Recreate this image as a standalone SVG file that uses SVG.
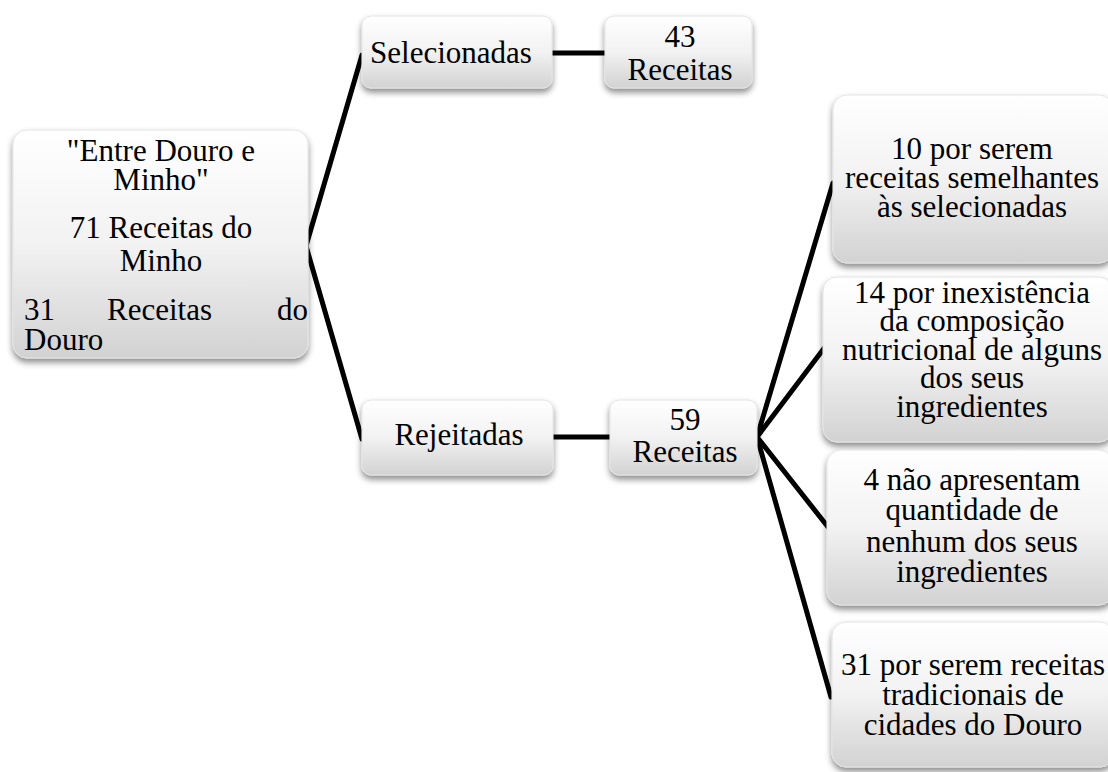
<svg xmlns="http://www.w3.org/2000/svg" width="1108" height="772" viewBox="0 0 1108 772" font-family="'Liberation Serif', 'Times New Roman', Times, serif">
<defs>
<linearGradient id="g" x1="0" y1="0" x2="0" y2="1">
<stop offset="0" stop-color="#ffffff"/>
<stop offset="0.5" stop-color="#f2f2f2"/>
<stop offset="1" stop-color="#d2d2d2"/>
</linearGradient>
<filter id="sh" x="-10%" y="-10%" width="120%" height="130%">
<feDropShadow dx="0" dy="4" stdDeviation="3" flood-color="#000" flood-opacity="0.45"/>
</filter>
</defs>
<style>
.box{fill:url(#g);stroke:#e4e4e4;stroke-width:1;filter:url(#sh)}
.t{font-family:'Liberation Serif','Times New Roman',Times,serif;font-size:31px;fill:#000;text-anchor:middle}
.l{text-anchor:start}
.c{stroke:#000;stroke-width:5;fill:none;stroke-linecap:round}
</style>
<rect width="1108" height="772" fill="#fff"/>
<g id="connectors">
<line class="c" x1="306" y1="246" x2="362" y2="55"/>
<line class="c" x1="306" y1="246" x2="362" y2="439"/>
<line class="c" x1="552" y1="53" x2="605" y2="53"/>
<line class="c" x1="553" y1="437" x2="610" y2="437"/>
<line class="c" x1="757" y1="437" x2="833" y2="183"/>
<line class="c" x1="757" y1="437" x2="825" y2="347"/>
<line class="c" x1="757" y1="437" x2="828" y2="527"/>
<line class="c" x1="757" y1="437" x2="831" y2="697"/>
</g>
<g id="root">
<rect class="box" x="13" y="130" width="295" height="228" rx="14"/>
<text class="t"><tspan x="161" y="161">"Entre Douro e</tspan><tspan x="161" y="190">Minho"</tspan></text>
<text class="t"><tspan x="161" y="238">71 Receitas do</tspan><tspan x="161" y="271">Minho</tspan></text>
<text class="t l"><tspan x="24" y="320">31</tspan><tspan x="107" y="320">Receitas</tspan><tspan x="277" y="320">do</tspan><tspan x="24" y="350">Douro</tspan></text>
</g>
<g id="selecionadas">
<rect class="box" x="362" y="16" width="190" height="72" rx="9"/>
<text class="t" x="451" y="63">Selecionadas</text>
</g>
<g id="sel43">
<rect class="box" x="605" y="16" width="147" height="72" rx="9"/>
<text class="t"><tspan x="680" y="47">43</tspan><tspan x="680" y="80">Receitas</tspan></text>
</g>
<g id="rejeitadas">
<rect class="box" x="362" y="400" width="191" height="75" rx="9"/>
<text class="t" x="459" y="445">Rejeitadas</text>
</g>
<g id="rej59">
<rect class="box" x="610" y="400" width="147" height="75" rx="9"/>
<text class="t"><tspan x="685" y="430">59</tspan><tspan x="685" y="462">Receitas</tspan></text>
</g>
<g id="motivo10">
<rect class="box" x="833" y="95" width="280" height="168" rx="14"/>
<text class="t"><tspan x="972" y="159">10 por serem</tspan><tspan x="972" y="188">receitas semelhantes</tspan><tspan x="972" y="217">às selecionadas</tspan></text>
</g>
<g id="motivo14">
<rect class="box" x="823" y="277" width="290" height="165" rx="14"/>
<text class="t"><tspan x="972" y="303">14 por inexistência</tspan><tspan x="972" y="331">da composição</tspan><tspan x="972" y="360">nutricional de alguns</tspan><tspan x="972" y="388">dos seus</tspan><tspan x="972" y="417">ingredientes</tspan></text>
</g>
<g id="motivo4">
<rect class="box" x="827" y="450" width="286" height="155" rx="14"/>
<text class="t"><tspan x="972" y="490">4 não apresentam</tspan><tspan x="972" y="520">quantidade de</tspan><tspan x="972" y="552">nenhum dos seus</tspan><tspan x="972" y="582">ingredientes</tspan></text>
</g>
<g id="motivo31">
<rect class="box" x="832" y="622" width="282" height="145" rx="14"/>
<text class="t"><tspan x="973" y="675">31 por serem receitas</tspan><tspan x="973" y="705">tradicionais de</tspan><tspan x="973" y="735">cidades do Douro</tspan></text>
</g>
</svg>
